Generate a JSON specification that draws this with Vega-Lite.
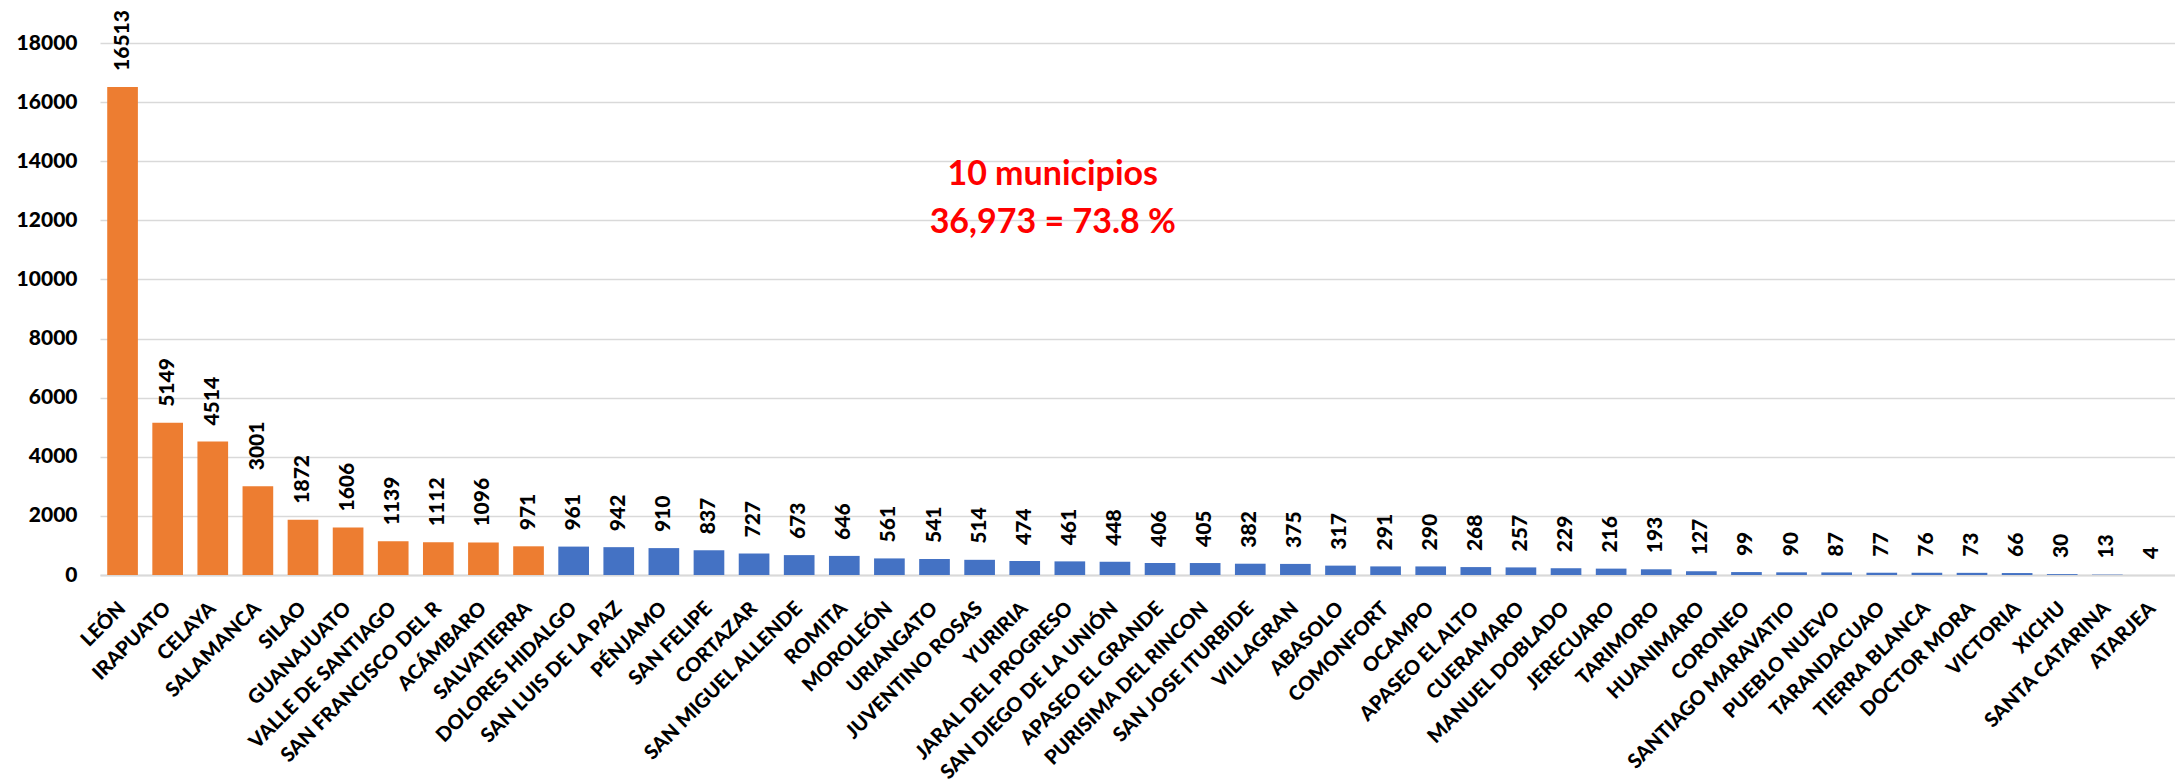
{
  "$schema": "https://vega.github.io/schema/vega-lite/v6.json",
  "autosize": {"type": "none"},
  "padding": {"left": 100, "top": 43, "right": 0, "bottom": 208},
  "width": 2075,
  "height": 532,
  "background": "white",
  "config": {"view": {"stroke": null}, "font": "Lato"},
  "datasets": {
    "mun": [
      {"municipio": "LEÓN", "casos": 16513, "grupo": "top"},
      {"municipio": "IRAPUATO", "casos": 5149, "grupo": "top"},
      {"municipio": "CELAYA", "casos": 4514, "grupo": "top"},
      {"municipio": "SALAMANCA", "casos": 3001, "grupo": "top"},
      {"municipio": "SILAO", "casos": 1872, "grupo": "top"},
      {"municipio": "GUANAJUATO", "casos": 1606, "grupo": "top"},
      {"municipio": "VALLE DE SANTIAGO", "casos": 1139, "grupo": "top"},
      {"municipio": "SAN FRANCISCO DEL R", "casos": 1112, "grupo": "top"},
      {"municipio": "ACÁMBARO", "casos": 1096, "grupo": "top"},
      {"municipio": "SALVATIERRA", "casos": 971, "grupo": "top"},
      {"municipio": "DOLORES HIDALGO", "casos": 961, "grupo": "rest"},
      {"municipio": "SAN LUIS DE LA PAZ", "casos": 942, "grupo": "rest"},
      {"municipio": "PÉNJAMO", "casos": 910, "grupo": "rest"},
      {"municipio": "SAN FELIPE", "casos": 837, "grupo": "rest"},
      {"municipio": "CORTAZAR", "casos": 727, "grupo": "rest"},
      {"municipio": "SAN MIGUEL ALLENDE", "casos": 673, "grupo": "rest"},
      {"municipio": "ROMITA", "casos": 646, "grupo": "rest"},
      {"municipio": "MOROLEÓN", "casos": 561, "grupo": "rest"},
      {"municipio": "URIANGATO", "casos": 541, "grupo": "rest"},
      {"municipio": "JUVENTINO ROSAS", "casos": 514, "grupo": "rest"},
      {"municipio": "YURIRIA", "casos": 474, "grupo": "rest"},
      {"municipio": "JARAL DEL PROGRESO", "casos": 461, "grupo": "rest"},
      {"municipio": "SAN DIEGO DE LA UNIÓN", "casos": 448, "grupo": "rest"},
      {"municipio": "APASEO EL GRANDE", "casos": 406, "grupo": "rest"},
      {"municipio": "PURISIMA DEL RINCON", "casos": 405, "grupo": "rest"},
      {"municipio": "SAN JOSE ITURBIDE", "casos": 382, "grupo": "rest"},
      {"municipio": "VILLAGRAN", "casos": 375, "grupo": "rest"},
      {"municipio": "ABASOLO", "casos": 317, "grupo": "rest"},
      {"municipio": "COMONFORT", "casos": 291, "grupo": "rest"},
      {"municipio": "OCAMPO", "casos": 290, "grupo": "rest"},
      {"municipio": "APASEO EL ALTO", "casos": 268, "grupo": "rest"},
      {"municipio": "CUERAMARO", "casos": 257, "grupo": "rest"},
      {"municipio": "MANUEL DOBLADO", "casos": 229, "grupo": "rest"},
      {"municipio": "JERECUARO", "casos": 216, "grupo": "rest"},
      {"municipio": "TARIMORO", "casos": 193, "grupo": "rest"},
      {"municipio": "HUANIMARO", "casos": 127, "grupo": "rest"},
      {"municipio": "CORONEO", "casos": 99, "grupo": "rest"},
      {"municipio": "SANTIAGO MARAVATIO", "casos": 90, "grupo": "rest"},
      {"municipio": "PUEBLO NUEVO", "casos": 87, "grupo": "rest"},
      {"municipio": "TARANDACUAO", "casos": 77, "grupo": "rest"},
      {"municipio": "TIERRA BLANCA", "casos": 76, "grupo": "rest"},
      {"municipio": "DOCTOR MORA", "casos": 73, "grupo": "rest"},
      {"municipio": "VICTORIA", "casos": 66, "grupo": "rest"},
      {"municipio": "XICHU", "casos": 30, "grupo": "rest"},
      {"municipio": "SANTA CATARINA", "casos": 13, "grupo": "rest"},
      {"municipio": "ATARJEA", "casos": 4, "grupo": "rest"}
    ],
    "nota": [
      {"municipio": "YURIRIA", "y": 13550, "t": "10 municipios"},
      {"municipio": "YURIRIA", "y": 11900, "t": "36,973 = 73.8 %"}
    ]
  },
  "layer": [
    {
      "data": {"name": "mun"},
      "mark": {"type": "bar"},
      "encoding": {
        "x": {
          "field": "municipio", "type": "nominal", "sort": null,
          "scale": {"paddingInner": 0.32, "paddingOuter": 0.16},
          "axis": {
            "title": null, "labelAngle": -45, "labelAlign": "right", "labelBaseline": "middle",
            "labelFont": "Lato", "labelFontWeight": 900, "labelFontSize": 20, "labelColor": "#000000",
            "labelPadding": 30, "labelOverlap": false, "labelLimit": 0,
            "ticks": false, "domainColor": "#D9D9D9", "domainWidth": 2, "grid": false
          }
        },
        "y": {
          "field": "casos", "type": "quantitative",
          "scale": {"domain": [0, 18000], "nice": false},
          "axis": {
            "title": null, "values": [0, 2000, 4000, 6000, 8000, 10000, 12000, 14000, 16000, 18000],
            "format": "d", "labelFont": "Lato", "labelFontWeight": 900, "labelFontSize": 21,
            "labelColor": "#000000", "labelPadding": 23, "ticks": false, "domain": false,
            "grid": true, "gridColor": "#D9D9D9", "gridWidth": 1.5
          }
        },
        "color": {
          "field": "grupo", "type": "nominal",
          "scale": {"domain": ["top", "rest"], "range": ["#ED7D31", "#4472C4"]},
          "legend": null
        }
      }
    },
    {
      "data": {"name": "mun"},
      "mark": {"type": "text", "angle": 270, "align": "left", "baseline": "middle", "dx": 16,
               "font": "Lato", "fontWeight": 900, "fontSize": 21, "color": "#000000"},
      "encoding": {
        "x": {"field": "municipio", "type": "nominal", "sort": null},
        "y": {"field": "casos", "type": "quantitative"},
        "text": {"field": "casos", "type": "quantitative", "format": "d"}
      }
    },
    {
      "data": {"name": "nota"},
      "mark": {"type": "text", "align": "center", "baseline": "middle", "dx": 28,
               "font": "Lato", "fontWeight": "bold", "fontSize": 34, "color": "#FF0000"},
      "encoding": {
        "x": {"field": "municipio", "type": "nominal", "sort": null},
        "y": {"field": "y", "type": "quantitative"},
        "text": {"field": "t", "type": "nominal"}
      }
    }
  ]
}
